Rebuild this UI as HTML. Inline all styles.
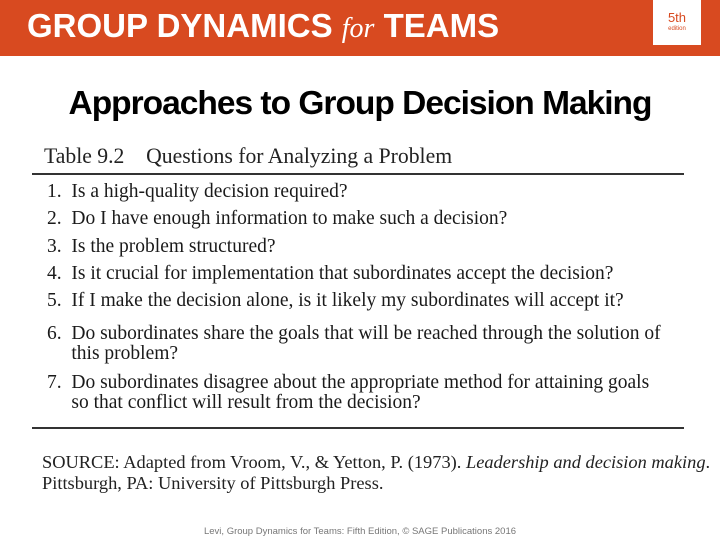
<!DOCTYPE html>
<html><head><meta charset="utf-8">
<style>
body{margin:0;width:720px;height:540px;position:relative;background:#fff;overflow:hidden;font-family:"Liberation Serif",serif;}
.a{position:absolute;white-space:nowrap;}
.q{font-size:19.5px;color:#1a1a1a;left:47px;}
</style></head><body>
<div class="a" style="left:0;top:0;width:720px;height:56px;background:#d84a20;"></div>
<div class="a" style="left:27px;top:7px;font-family:'Liberation Sans',sans-serif;font-weight:bold;font-size:33px;color:#fff;transform:scaleX(1.0);transform-origin:left;">GROUP DYNAMICS <i style="font-family:'Liberation Serif',serif;font-weight:normal;font-size:28px;">for</i> TEAMS</div>
<div class="a" style="left:653px;top:0;width:48px;height:45px;background:#fff;text-align:center;color:#d84a20;font-family:'Liberation Sans',sans-serif;">
<div style="font-size:13px;margin-top:11px;line-height:14px;">5th</div><div style="font-size:6px;line-height:8px;">edition</div></div>
<div class="a" style="left:0;width:720px;top:85px;text-align:center;font-family:'Liberation Sans',sans-serif;font-weight:bold;font-size:33.5px;letter-spacing:-1px;color:#000;">Approaches to Group Decision Making</div>
<div class="a" style="left:44px;top:144px;font-size:21.7px;color:#222;">Table 9.2&nbsp;&nbsp;&nbsp; Questions for Analyzing a Problem</div>
<div class="a" style="left:32px;top:173px;width:652px;height:1.5px;background:#333;"></div>
<div class="a q" style="top:181px;">1.&nbsp; Is a high-quality decision required?</div>
<div class="a q" style="top:208px;">2.&nbsp; Do I have enough information to make such a decision?</div>
<div class="a q" style="top:236px;">3.&nbsp; Is the problem structured?</div>
<div class="a q" style="top:263px;">4.&nbsp; Is it crucial for implementation that subordinates accept the decision?</div>
<div class="a q" style="top:290px;">5.&nbsp; If I make the decision alone, is it likely my subordinates will accept it?</div>
<div class="a q" style="top:324px;line-height:20px;">6.&nbsp; Do subordinates share the goals that will be reached through the solution of<br>&nbsp;&nbsp;&nbsp;&nbsp; this problem?</div>
<div class="a q" style="top:373px;line-height:20px;">7.&nbsp; Do subordinates disagree about the appropriate method for attaining goals<br>&nbsp;&nbsp;&nbsp;&nbsp; so that conflict will result from the decision?</div>
<div class="a" style="left:32px;top:427px;width:652px;height:1.5px;background:#333;"></div>
<div class="a" style="left:42px;top:452px;font-size:18.4px;line-height:21px;color:#222;">SOURCE: Adapted from Vroom, V., &amp; Yetton, P. (1973). <i>Leadership and decision making</i>.<br>Pittsburgh, PA: University of Pittsburgh Press.</div>
<div class="a" style="left:0;width:720px;top:526px;text-align:center;font-family:'Liberation Sans',sans-serif;font-size:9.5px;color:#777;">Levi, Group Dynamics for Teams: Fifth Edition, © SAGE Publications 2016</div>
</body></html>
